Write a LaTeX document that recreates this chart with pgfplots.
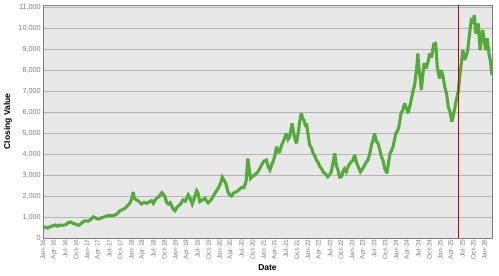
\documentclass[border=0pt]{standalone}
\usepackage{pgfplots}
\pgfplotsset{compat=1.18}
\usepackage{fontspec}
\setmainfont{Liberation Sans}
\definecolor{bgc}{RGB}{232,232,232}
\definecolor{gridc}{RGB}{180,180,180}
\definecolor{linec}{RGB}{84,170,58}
\definecolor{tickc}{RGB}{125,125,125}
\definecolor{redc}{RGB}{192,0,0}
\begin{document}
\begin{tikzpicture}
\path[use as bounding box] (0,0) rectangle (499pt,276pt);
\begin{axis}[
  at={(43pt,38pt)}, anchor=south west,
  scale only axis, width=449pt, height=233pt,
  xmin=0, xmax=10.17, ymin=0, ymax=11100,
  axis background/.style={fill=bgc},
  axis line style={draw=tickc},
  ymajorgrids, grid style={gridc, line width=0.8pt},
  major tick length=0pt,
  ytick={0,1000,...,11000},
  xtick={0,0.25,...,10},
  xticklabels={Jan-16,Apr-16,Jul-16,Oct-16,Jan-17,Apr-17,Jul-17,Oct-17,Jan-18,Apr-18,Jul-18,Oct-18,Jan-19,Apr-19,Jul-19,Oct-19,Jan-20,Apr-20,Jul-20,Oct-20,Jan-21,Apr-21,Jul-21,Oct-21,Jan-22,Apr-22,Jul-22,Oct-22,Jan-23,Apr-23,Jul-23,Oct-23,Jan-24,Apr-24,Jul-24,Oct-24,Jan-25,Apr-25,Jul-25,Oct-25,Jan-26},
  xticklabel style={rotate=90, anchor=east, font=\fontsize{6.5}{7}\selectfont, text=tickc, inner sep=1.5pt},
  yticklabel style={font=\fontsize{7.3}{8}\selectfont, text=tickc, inner sep=2pt},
  /pgf/number format/assume math mode=true,
  /pgf/number format/1000 sep={,},
  scaled y ticks=false,
  xlabel={Date}, ylabel={Closing Value},
  xlabel style={at={(axis description cs:0.5,-0.128)}, anchor=center, font=\fontsize{8.5}{9}\selectfont\bfseries},
  ylabel style={at={(axis description cs:-0.078,0.5)}, anchor=center, font=\fontsize{8.5}{9}\selectfont\bfseries},
  clip=true,
]
\addplot[linec, line width=3.1pt, line join=miter, miter limit=3] coordinates {
(0.00,480)(0.05,520)(0.10,470)(0.16,540)(0.22,580)(0.28,620)(0.33,560)(0.38,620)(0.45,600)(0.52,640)
(0.58,740)(0.63,760)(0.68,700)(0.75,650)(0.80,600)(0.86,680)(0.92,790)(0.97,820)(1.02,800)(1.08,880)
(1.14,1010)(1.20,950)(1.25,900)(1.32,960)(1.38,1000)(1.44,1050)(1.50,1080)(1.56,1060)(1.63,1100)(1.68,1150)
(1.74,1300)(1.80,1350)(1.86,1420)(1.93,1570)(1.98,1700)(2.02,1950)(2.04,2200)(2.07,1900)(2.12,1810)(2.17,1750)
(2.23,1620)(2.29,1700)(2.35,1650)(2.40,1720)(2.46,1780)(2.50,1650)(2.54,1800)(2.57,1890)(2.63,1980)(2.69,2160)
(2.72,2100)(2.76,1970)(2.80,1700)(2.84,1620)(2.88,1680)(2.92,1500)(2.95,1365)(2.99,1300)(3.03,1450)(3.06,1520)
(3.11,1600)(3.17,1810)(3.22,1750)(3.29,2050)(3.33,1900)(3.38,1620)(3.42,1850)(3.48,2250)(3.51,2150)(3.55,1730)
(3.60,1800)(3.67,1890)(3.71,1750)(3.74,1680)(3.80,1800)(3.85,1970)(3.90,2150)(3.97,2370)(4.02,2600)(4.06,2900)
(4.10,2750)(4.14,2600)(4.19,2200)(4.23,2050)(4.27,2000)(4.32,2150)(4.38,2200)(4.44,2300)(4.50,2410)(4.55,2400)
(4.60,2700)(4.64,3790)(4.67,3300)(4.70,2840)(4.75,2950)(4.80,3000)(4.87,3160)(4.92,3350)(4.95,3480)(5.00,3650)
(5.06,3710)(5.10,3400)(5.14,3240)(5.18,3500)(5.21,3630)(5.25,3900)(5.29,4350)(5.33,4100)(5.36,4110)(5.40,4400)
(5.44,4590)(5.48,4800)(5.51,4980)(5.55,4700)(5.59,4830)(5.62,5200)(5.64,5460)(5.68,5000)(5.71,4700)(5.74,4510)
(5.78,5000)(5.82,5600)(5.85,5940)(5.88,5700)(5.91,5620)(5.95,5300)(5.97,5460)(6.00,4980)(6.04,4430)(6.08,4300)
(6.12,4030)(6.16,3900)(6.19,3710)(6.23,3600)(6.27,3400)(6.31,3300)(6.34,3160)(6.40,3050)(6.45,2920)(6.49,3000)
(6.53,3160)(6.57,3600)(6.61,4030)(6.64,3500)(6.68,3240)(6.72,2900)(6.76,2920)(6.80,3200)(6.83,3300)(6.87,3160)
(6.92,3450)(6.98,3630)(7.02,3700)(7.06,3950)(7.10,3600)(7.14,3400)(7.19,3150)(7.24,3300)(7.28,3450)(7.32,3600)
(7.36,3710)(7.40,4000)(7.44,4430)(7.48,4700)(7.51,4980)(7.55,4600)(7.59,4510)(7.62,4270)(7.66,3900)(7.70,3700)
(7.74,3320)(7.79,3080)(7.82,3500)(7.86,4030)(7.90,4200)(7.93,4350)(7.99,4980)(8.03,5100)(8.06,5300)(8.11,5940)
(8.15,6100)(8.19,6410)(8.23,6200)(8.27,5940)(8.31,6300)(8.34,6570)(8.38,7000)(8.42,7300)(8.44,7680)(8.47,8200)
(8.49,8790)(8.52,8000)(8.55,7500)(8.57,7050)(8.60,7700)(8.63,8320)(8.68,8080)(8.72,8400)(8.76,8790)(8.80,8600)
(8.84,9110)(8.87,9000)(8.89,9350)(8.91,8800)(8.93,8160)(8.96,7800)(8.98,7600)(9.02,8000)(9.06,7700)(9.10,7200)
(9.14,6890)(9.18,6250)(9.22,6010)(9.26,5540)(9.29,5800)(9.32,6100)(9.36,6570)(9.39,6800)(9.41,7050)(9.44,7700)
(9.47,8240)(9.51,8950)(9.55,8480)(9.59,8700)(9.62,8950)(9.66,9700)(9.70,10380)(9.74,10300)(9.77,10620)(9.80,9750)
(9.83,9900)(9.86,10220)(9.90,8950)(9.93,9500)(9.96,9900)(10.00,9300)(10.03,8950)(10.06,9510)(10.10,8800)(10.13,8480)
(10.17,7760)
};
\addplot[redc, line width=0.9pt] coordinates {(9.42,0) (9.42,11100)};
\end{axis}
\end{tikzpicture}
\end{document}
